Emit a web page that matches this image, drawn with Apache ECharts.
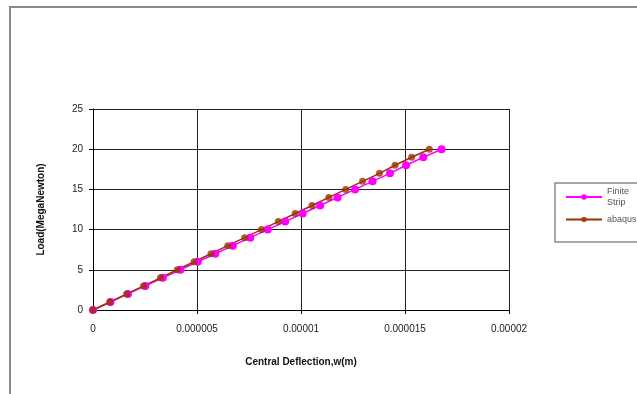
<!DOCTYPE html>
<html>
<head>
<meta charset="utf-8">
<script src="https://cdn.jsdelivr.net/npm/echarts@6/dist/echarts.min.js"></script>
<style>
  html, body { margin: 0; padding: 0; background: #fff; }
  #chart { width: 637px; height: 394px; }
</style>
</head>
<body>
<div id="chart"></div>
<script type="text/javascript">
// load steps (MegaNewton)
var loads = [0, 1, 2, 3, 4, 5, 6, 7, 8, 9, 10, 11, 12, 13, 14, 15, 16, 17, 18, 19, 20];
// central deflection w (m)
var finiteStrip = [0, 0.00000084, 0.00000168, 0.00000252, 0.00000336, 0.0000042, 0.00000504,
  0.00000588, 0.00000672, 0.00000756, 0.0000084, 0.00000924, 0.00001008, 0.00001092,
  0.00001176, 0.0000126, 0.00001344, 0.00001428, 0.00001505, 0.00001588, 0.00001676];
var abaqus = [0, 0.00000081, 0.00000162, 0.00000243, 0.00000324, 0.00000405, 0.00000486,
  0.00000567, 0.00000648, 0.00000729, 0.0000081, 0.00000891, 0.00000972, 0.00001053,
  0.00001134, 0.00001215, 0.00001296, 0.00001377, 0.00001452, 0.00001532, 0.00001617];
var xTicks = ['0', '0.000005', '0.00001', '0.000015', '0.00002'];

function pairs(xs, ys) {
  var out = [];
  for (var i = 0; i < xs.length; i++) out.push([xs[i], ys[i]]);
  return out;
}

var myChart = echarts.init(document.getElementById('chart'));
var font = '"Liberation Sans", Arial, sans-serif';
var option = {
  backgroundColor: '#fff',
  animation: false,
  textStyle: { fontFamily: font },
  graphic: [
    { type: 'rect', shape: { x: 10, y: 7, width: 700, height: 500 }, style: { fill: null, stroke: '#8a8a8a', lineWidth: 2 }, z: 0 },
    { type: 'rect', shape: { x: 555, y: 183, width: 100, height: 59 }, style: { fill: '#fff', stroke: '#8a8a8a', lineWidth: 1.5 }, z: 0 }
  ],
  legend: {
    orient: 'vertical',
    left: 560,
    top: 181,
    itemWidth: 36,
    itemHeight: 7,
    itemGap: 6,
    textStyle: { fontSize: 9, color: '#555', fontFamily: font, lineHeight: 11 },
    formatter: function (name) { return name === 'Finite Strip' ? 'Finite\nStrip' : name; },
    data: ['Finite Strip', 'abaqus']
  },
  grid: { left: 93, top: 109, width: 416, height: 201 },
  xAxis: {
    type: 'value',
    min: 0, max: 0.00002, interval: 0.000005,
    name: 'Central Deflection,w(m)',
    nameLocation: 'middle',
    nameGap: 47,
    nameTextStyle: { fontWeight: 'bold', fontSize: 10, color: '#111' },
    axisLine: { lineStyle: { color: '#000', width: 1 } },
    axisTick: { show: true, length: 4, lineStyle: { color: '#000' } },
    axisLabel: { fontSize: 10, color: '#222', margin: 14, formatter: function (v, i) { return xTicks[i]; } },
    splitLine: { show: true, lineStyle: { color: '#222', width: 1 } }
  },
  yAxis: {
    type: 'value',
    min: 0, max: 25, interval: 5,
    name: 'Load(MegaNewton)',
    nameLocation: 'middle',
    nameRotate: 90,
    nameGap: 47,
    nameTextStyle: { fontWeight: 'bold', fontSize: 10, color: '#111' },
    axisLine: { show: true, lineStyle: { color: '#000', width: 1 } },
    axisTick: { show: true, length: 4, lineStyle: { color: '#000' } },
    axisLabel: { fontSize: 10, color: '#222', margin: 10 },
    splitLine: { show: true, lineStyle: { color: '#222', width: 1 } }
  },
  series: [
    {
      name: 'Finite Strip',
      type: 'line',
      data: pairs(finiteStrip, loads),
      symbol: 'circle',
      symbolSize: 8,
      lineStyle: { color: '#ff00ff', width: 1.5 },
      itemStyle: { color: '#ff00ff' }
    },
    {
      name: 'abaqus',
      type: 'line',
      data: pairs(abaqus, loads),
      symbol: 'circle',
      symbolSize: 7,
      lineStyle: { color: '#993300', width: 1.5 },
      itemStyle: { color: '#993300', opacity: 0.8 }
    }
  ]
};
myChart.setOption(option);
</script>
</body>
</html>
